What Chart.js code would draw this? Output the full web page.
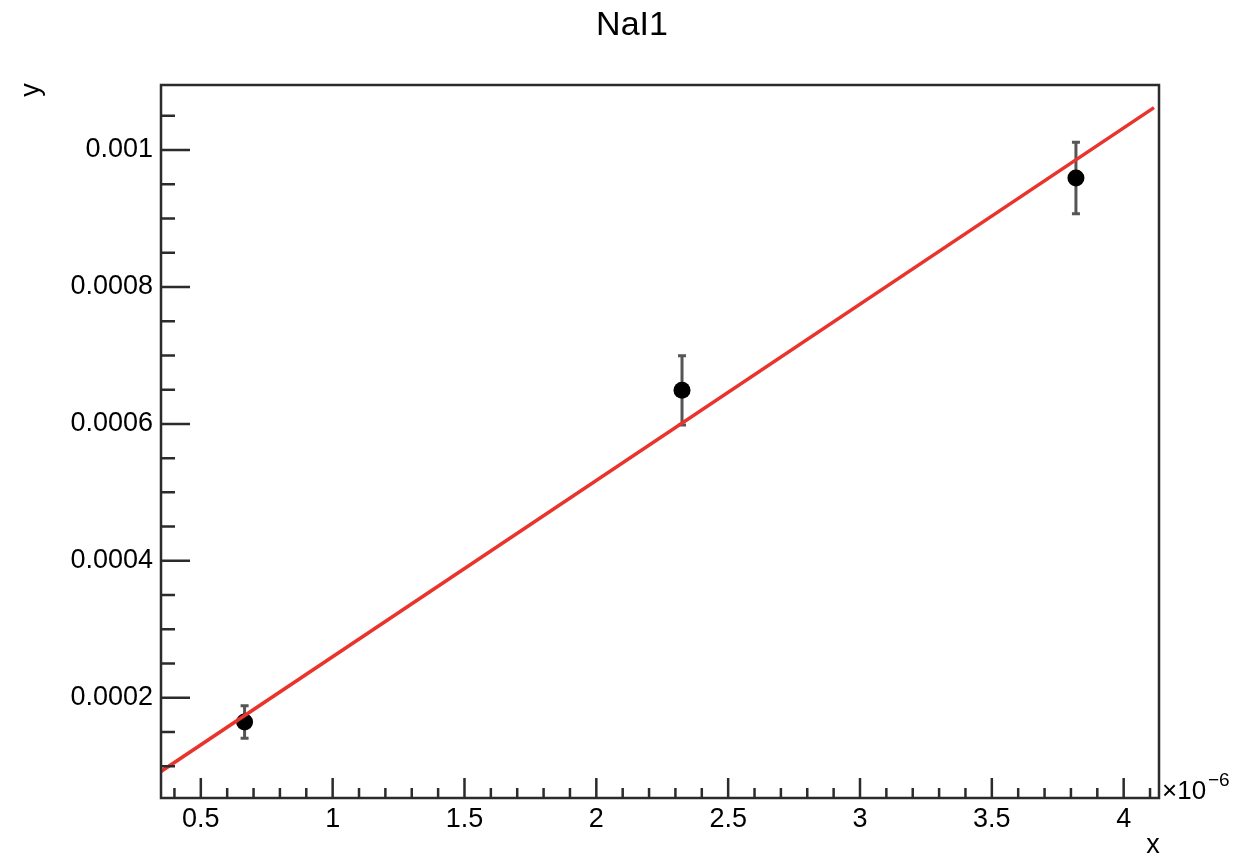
<!DOCTYPE html>
<html>
<head>
<meta charset="utf-8">
<title>NaI1</title>
<script src="https://cdn.jsdelivr.net/npm/chart.js@4"></script>
<style>
  html, body { margin: 0; padding: 0; background: #fff; }
  #c { display: block; }
</style>
</head>
<body>
<canvas id="c" width="1244" height="859"></canvas>
<script>
// data (x in units of 1e-6)
const pointX = [0.666, 2.325, 3.819];
const pointY = [0.0001645, 0.000649, 0.000959];
const pointErr = [0.0000238, 0.0000507, 0.0000522];

// fitted line, end points as drawn
const fitX = [0.349, 4.115];
const fitY = [0.0000924, 0.001062];

// tick labels
const xTicks = [0.5, 1, 1.5, 2, 2.5, 3, 3.5, 4];
const xTickLabels = ['0.5', '1', '1.5', '2', '2.5', '3', '3.5', '4'];
const yTicks = [0.0002, 0.0004, 0.0006, 0.0008, 0.001];
const yTickLabels = ['0.0002', '0.0004', '0.0006', '0.0008', '0.001'];

const xMinor = [];
for (let i = 4; i <= 41; i++) xMinor.push(i / 10);
const yMinor = [];
for (let i = 2; i <= 21; i++) yMinor.push(i * 0.00005);

const FONT = '"Liberation Sans", Arial, Helvetica, sans-serif';
const AXIS_COLOR = '#2b2b2b';

// error bars go under the markers
const errorBars = {
    id: 'errorBars',
    beforeDatasetsDraw(chart) {
        const { ctx, scales: { x, y } } = chart;
        ctx.save();
        ctx.strokeStyle = '#555';
        ctx.lineWidth = 3;
        pointX.forEach((px, i) => {
            const cx = x.getPixelForValue(px);
            const top = y.getPixelForValue(pointY[i] + pointErr[i]);
            const bot = y.getPixelForValue(pointY[i] - pointErr[i]);
            ctx.beginPath();
            ctx.moveTo(cx, top); ctx.lineTo(cx, bot);
            ctx.moveTo(cx - 4, top); ctx.lineTo(cx + 4, top);
            ctx.moveTo(cx - 4, bot); ctx.lineTo(cx + 4, bot);
            ctx.stroke();
        });
        ctx.restore();
    }
};

// ROOT-like frame, inward ticks and labels
const frame = {
    id: 'frame',
    afterDraw(chart) {
        const { ctx, chartArea: a, scales: { x, y } } = chart;
        ctx.save();
        ctx.strokeStyle = AXIS_COLOR;
        ctx.lineWidth = 2.5;
        ctx.strokeRect(a.left, a.top, a.right - a.left, a.bottom - a.top);

        ctx.beginPath();
        xMinor.forEach(v => {
            const px = x.getPixelForValue(v);
            if (px < a.left || px > a.right) return;
            const len = xTicks.some(t => Math.abs(t - v) < 1e-9) ? 20 : 10;
            ctx.moveTo(px, a.bottom); ctx.lineTo(px, a.bottom - len);
        });
        yMinor.forEach(v => {
            const py = y.getPixelForValue(v);
            if (py < a.top || py > a.bottom) return;
            const len = yTicks.some(t => Math.abs(t - v) < 1e-12) ? 29 : 14;
            ctx.moveTo(a.left, py); ctx.lineTo(a.left + len, py);
        });
        ctx.stroke();

        ctx.fillStyle = '#000';
        ctx.font = '27px ' + FONT;
        ctx.textAlign = 'center';
        ctx.textBaseline = 'middle';
        xTicks.forEach((v, i) => {
            ctx.fillText(xTickLabels[i], x.getPixelForValue(v), 820);
        });
        ctx.textAlign = 'right';
        yTicks.forEach((v, i) => {
            ctx.fillText(yTickLabels[i], a.left - 8, y.getPixelForValue(v));
        });

        // exponent for x axis
        ctx.textAlign = 'left';
        ctx.font = '26px ' + FONT;
        ctx.fillText('\u00d710', a.right + 3, 792);
        ctx.font = '19px ' + FONT;
        ctx.fillText('\u22126', a.right + 49, 781);

        // axis titles
        ctx.font = '27px ' + FONT;
        ctx.textAlign = 'center';
        ctx.fillText('x', 1153, 846);
        ctx.save();
        ctx.translate(32, 90);
        ctx.rotate(-Math.PI / 2);
        ctx.fillText('y', 0, 0);
        ctx.restore();

        // title
        ctx.font = '34px ' + FONT;
        ctx.fillText('NaI1', 632, 26);
        ctx.restore();
    }
};

new Chart(document.getElementById('c'), {
    type: 'scatter',
    data: {
        datasets: [
            {
                label: 'fit',
                data: fitX.map((v, i) => ({ x: v, y: fitY[i] })),
                showLine: true,
                borderColor: '#e8342c',
                borderWidth: 3.5,
                pointRadius: 0,
                fill: false
            },
            {
                label: 'NaI1',
                data: pointX.map((v, i) => ({ x: v, y: pointY[i] })),
                showLine: false,
                pointRadius: 8.5,
                pointBackgroundColor: '#000',
                pointBorderColor: '#000',
                pointBorderWidth: 0
            }
        ]
    },
    options: {
        responsive: false,
        devicePixelRatio: 1,
        animation: false,
        layout: { padding: { left: 161, right: 85, top: 85, bottom: 61 } },
        scales: {
            x: { type: 'linear', min: 0.349, max: 4.134, display: false },
            y: { type: 'linear', min: 0.0000536, max: 0.001095, display: false }
        },
        plugins: {
            legend: { display: false },
            title: { display: false },
            tooltip: { enabled: false }
        }
    },
    plugins: [errorBars, frame]
});
</script>
</body>
</html>
